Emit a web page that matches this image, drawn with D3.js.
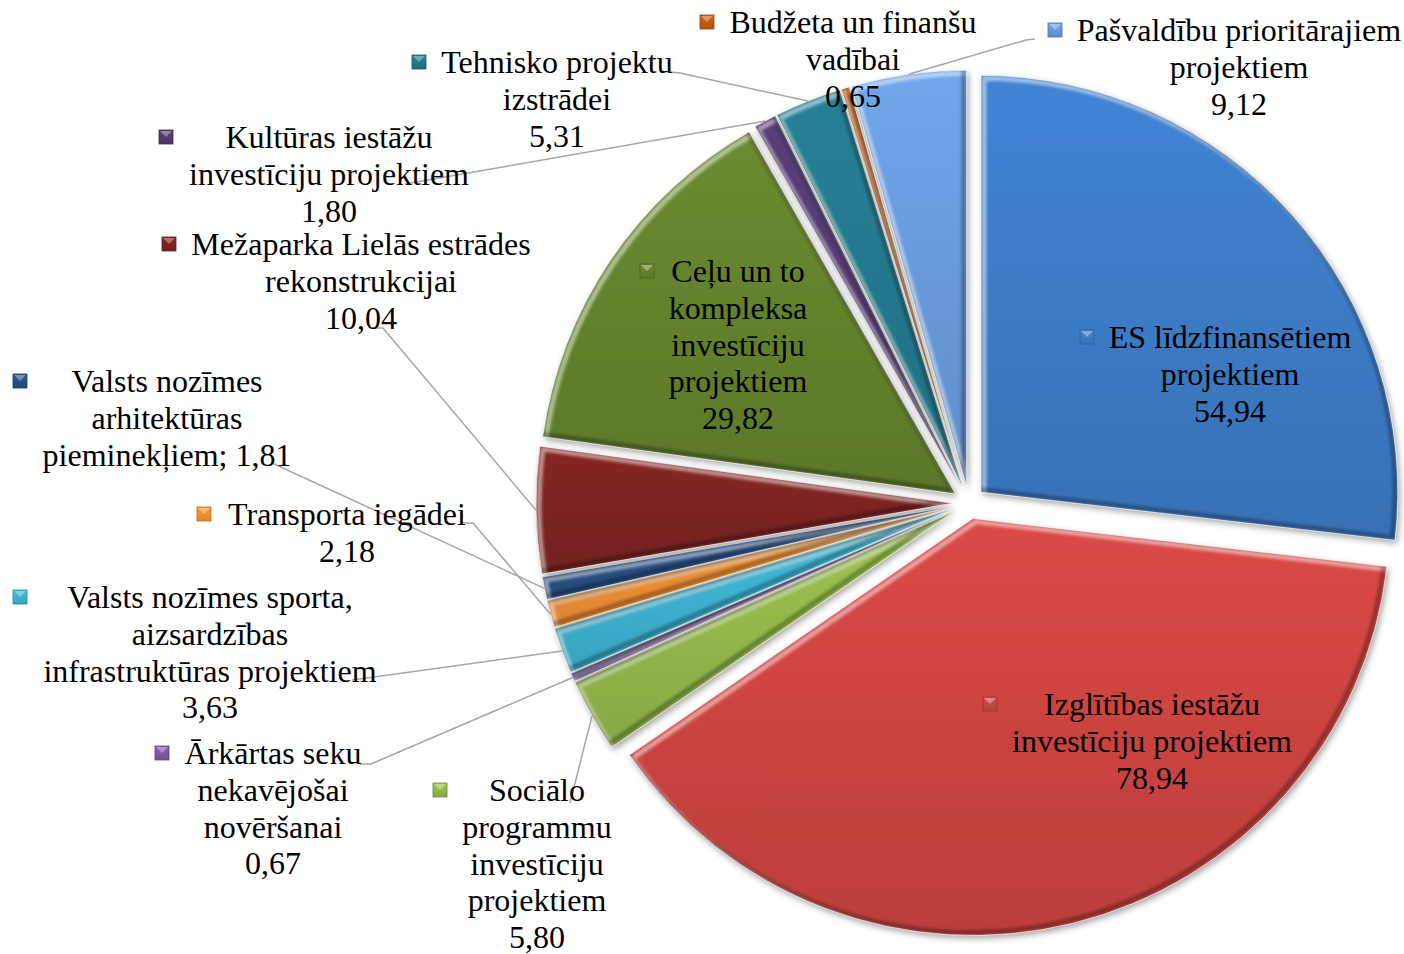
<!DOCTYPE html>
<html>
<head>
<meta charset="utf-8">
<script src="https://cdn.jsdelivr.net/npm/d3@7"></script>
<style>
  body { margin: 0; background: #fff; }
  #viz text { font-family: "Liberation Serif", "Times New Roman", serif; font-size: 32px; fill: #000; }
</style>
</head>
<body>
<div id="viz"></div>
<script>
// data
const categories = [
    "ES līdzfinansētiem\nprojektiem",
    "Izglītības iestāžu\ninvestīciju projektiem",
    "Sociālo\nprogrammu\ninvestīciju\nprojektiem",
    "Ārkārtas seku\nnekavējošai\nnovēršanai",
    "Valsts nozīmes sporta,\naizsardzības\ninfrastruktūras projektiem",
    "Transporta iegādei",
    "Valsts nozīmes\narhitektūras\npieminekļiem",
    "Mežaparka Lielās estrādes\nrekonstrukcijai",
    "Ceļu un to\nkompleksa\ninvestīciju\nprojektiem",
    "Kultūras iestāžu\ninvestīciju projektiem",
    "Tehnisko projektu\nizstrādei",
    "Budžeta un finanšu\nvadībai",
    "Pašvaldību prioritārajiem\nprojektiem"
];
const values = [54.94, 78.94, 5.80, 0.67, 3.63, 2.18, 1.81, 10.04, 29.82, 1.80, 5.31, 0.65, 9.12];
const colors = ["#3c7bc6", "#cc4441", "#94b84a", "#7b5aa6", "#3db2d0", "#f39033", "#2a5185",
                "#7d2422", "#64822d", "#533a70", "#24788c", "#c45a10", "#689bdb"];

// label placement (set by hand in the original chart)
const labelLayout = [
    {cx: 1230, y: 348, kx: 1080},
    {cx: 1152, y: 715, kx: 983},
    {cx: 537, y: 801, kx: 433, leader: [[570, 803]]},
    {cx: 273, y: 764, kx: 155, leader: [[360, 764], [371, 764]]},
    {cx: 210, y: 608, kx: 13, leader: [[352, 680]]},
    {cx: 347, y: 525, kx: 197, leader: [[463, 523], [473, 523]]},
    {cx: 167, y: 392, kx: 13, inline: true, leader: [[272, 463]]},
    {cx: 361, y: 255, kx: 162, leader: [[370, 328], [383, 328]]},
    {cx: 738, y: 282, kx: 640},
    {cx: 329, y: 148, kx: 159, leader: [[405, 184]]},
    {cx: 557, y: 73, kx: 412, leader: [[670, 72], [680, 73]]},
    {cx: 853, y: 33, kx: 700},
    {cx: 1239, y: 41, kx: 1048, leader: [[1035, 39], [1026, 40]]}
];

const width = 1404;
const height = 954;
const cx = 969, cy = 503;
const radius = 417;
const explode = 16;
const lineH = 36.8;

const fmt = v => d3.format(".2f")(v).replace(".", ",");

const svg = d3.select("#viz").append("svg")
    .attr("width", width)
    .attr("height", height);

const defs = svg.append("defs");

const shadow = defs.append("filter").attr("id", "shadow")
    .attr("x", "-20%").attr("y", "-20%").attr("width", "140%").attr("height", "140%");
shadow.append("feDropShadow")
    .attr("dx", 2).attr("dy", 3).attr("stdDeviation", 3)
    .attr("flood-color", "#000").attr("flood-opacity", 0.35);

const soft = defs.append("filter").attr("id", "soft");
soft.append("feGaussianBlur").attr("stdDeviation", 1.5);

colors.forEach((c, i) => {
    const g = defs.append("linearGradient").attr("id", "grad" + i)
        .attr("x1", 0).attr("y1", 0).attr("x2", 0).attr("y2", 1);
    g.append("stop").attr("offset", "0%").attr("stop-color", d3.color(c).brighter(0.2));
    g.append("stop").attr("offset", "100%").attr("stop-color", d3.color(c).darker(0.25));
});

const pie = d3.pie().sort(null).value(d => d);
const arcs = pie(values);

const arc = d3.arc().innerRadius(0).outerRadius(radius);
const rimArc = d3.arc().innerRadius(radius).outerRadius(radius);

const offset = d => {
    const a = (d.startAngle + d.endAngle) / 2;
    return [Math.sin(a) * explode, -Math.cos(a) * explode];
};

const chart = svg.append("g").attr("transform", `translate(${cx},${cy})`);

const slices = chart.selectAll("g.slice")
    .data(arcs)
    .enter()
    .append("g")
    .attr("class", "slice")
    .attr("transform", d => `translate(${offset(d)})`);

slices.append("clipPath")
    .attr("id", (d, i) => "clip" + i)
    .append("path")
    .attr("d", arc);

slices.append("path")
    .attr("d", arc)
    .attr("fill", (d, i) => `url(#grad${i})`)
    .attr("filter", "url(#shadow)");

// bevel: light rim on upper-left edges, dark rim on lower-right edges
const bevel = slices.append("g").attr("clip-path", (d, i) => `url(#clip${i})`);
bevel.append("path")
    .attr("d", arc)
    .attr("transform", "translate(3,3)")
    .attr("fill", "none")
    .attr("stroke", "#fff")
    .attr("stroke-opacity", 0.5)
    .attr("stroke-width", 5)
    .attr("filter", "url(#soft)");
bevel.append("path")
    .attr("d", arc)
    .attr("transform", "translate(-3,-3)")
    .attr("fill", "none")
    .attr("stroke", "#000")
    .attr("stroke-opacity", 0.3)
    .attr("stroke-width", 5)
    .attr("filter", "url(#soft)");

slices.append("path")
    .attr("d", arc)
    .attr("fill", "none")
    .attr("stroke", "#fff")
    .attr("stroke-opacity", 0.7)
    .attr("stroke-width", 1);

// leader lines
const leaders = svg.append("g");
arcs.forEach((d, i) => {
    const lay = labelLayout[i];
    if (!lay.leader) return;
    const o = offset(d);
    const p = rimArc.centroid(d);
    const pts = lay.leader.concat([[cx + o[0] + p[0], cy + o[1] + p[1]]]);
    leaders.append("path")
        .attr("d", d3.line()(pts))
        .attr("fill", "none")
        .attr("stroke", "#a6a6a6")
        .attr("stroke-width", 1.5);
});

// labels
const labels = svg.append("g");
arcs.forEach((d, i) => {
    const lay = labelLayout[i];
    let lines = categories[i].split("\n");
    if (lay.inline) {
        lines[lines.length - 1] += "; " + fmt(values[i]);
    } else {
        lines.push(fmt(values[i]));
    }
    const t = labels.append("text")
        .attr("text-anchor", "middle");
    lines.forEach((ln, j) => {
        t.append("tspan")
            .attr("x", lay.cx)
            .attr("y", lay.y + j * lineH)
            .text(ln);
    });
    labels.append("rect")
        .attr("x", lay.kx)
        .attr("y", lay.y - 18)
        .attr("width", 14)
        .attr("height", 14)
        .attr("fill", `url(#grad${i})`)
        .attr("stroke", d3.color(colors[i]).darker(0.8))
        .attr("stroke-width", 0.8);
    labels.append("path")
        .attr("d", `M${lay.kx + 1},${lay.y - 17} L${lay.kx + 7},${lay.y - 11} L${lay.kx + 13},${lay.y - 17} Z`)
        .attr("fill", "#fff")
        .attr("fill-opacity", 0.35);
});
</script>
</body>
</html>
